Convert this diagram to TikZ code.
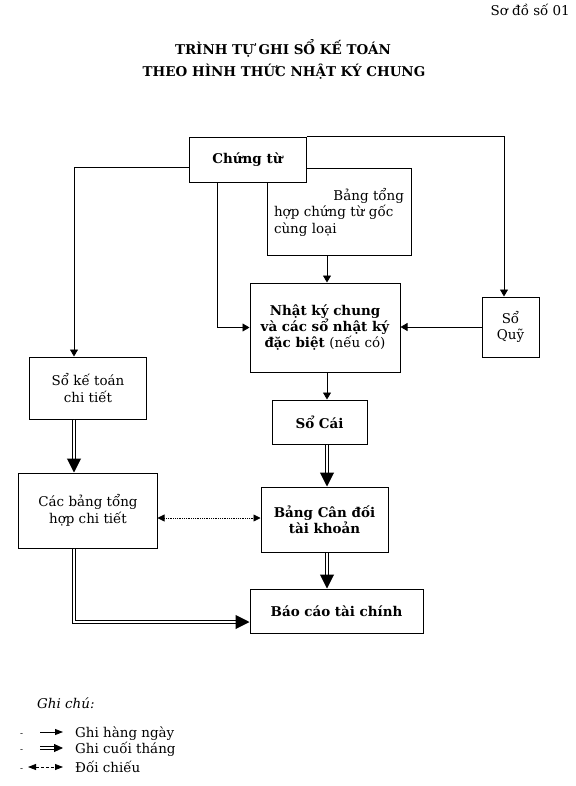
\documentclass[tikz,border=0pt]{standalone}
\usepackage{fontspec}
\setmainfont{DejaVu Serif}
\usetikzlibrary{arrows.meta}
\begin{document}
\begin{tikzpicture}[x=1bp,y=-1bp,
  box/.style={draw,line width=1bp,fill=white,inner sep=0pt,align=center,font=\fontsize{13.5}{16.5}\selectfont},
  hop/.style={box,font=\fontsize{13.5}{16.5}\selectfont\bfseries},
  daily/.style={line width=0.9bp,-{Triangle[length=7bp,width=8bp]}},
  monthly/.style={double,double distance=1.8bp,line width=1bp,-{Triangle[length=14bp,width=14bp]}},
  check/.style={densely dotted,line width=0.8bp,{Triangle[length=7bp,width=7bp]}-{Triangle[length=7bp,width=7bp]}},
  legend/.style={font=\fontsize{13.5}{15}\selectfont,anchor=base west,inner sep=0pt}]
\useasboundingbox (0,0) rectangle (576,786);
\node[anchor=base east,inner sep=0pt,font=\fontsize{13.5}{15}\selectfont] (so) at (570,16) {Sơ đồ số 01};
\node[font=\fontsize{13.5}{15}\selectfont\bfseries,anchor=base,inner sep=0pt] (t1) at (283,55) {TRÌNH TỰ GHI SỔ KẾ TOÁN};
\node[font=\fontsize{13.5}{15}\selectfont\bfseries,anchor=base,inner sep=0pt] (t2) at (284,77) {THEO HÌNH THỨC NHẬT KÝ CHUNG};

\node[box,minimum width=144bp,minimum height=87bp,text width=130bp,align=left] (bth) at (339,212)
  {\hspace*{\fill}Bảng tổng\hspace*{12bp}\\hợp chứng từ gốc\\cùng loại};
\node[hop,minimum width=117bp,minimum height=45bp] (ct) at (247.5,159.5) {Chứng từ};
\node[hop,minimum width=150bp,minimum height=89bp] (nkc) at (325,327.5)
  {Nhật ký chung\\và các sổ nhật ký\\đặc biệt \textmd{(nếu có)}};
\node[box,minimum width=57bp,minimum height=60bp] (sq) at (510.5,327) {Sổ\\Quỹ};
\node[box,minimum width=116bp,minimum height=62bp] (sktct) at (88,388) {Sổ kế toán\\chi tiết};
\node[hop,minimum width=95bp,minimum height=44bp] (sc) at (319.5,422) {Sổ Cái};
\node[box,minimum width=138bp,minimum height=75bp] (cbth) at (88,510.5) {Các bảng tổng\\hợp chi tiết};
\node[hop,minimum width=127bp,minimum height=65bp] (bcd) at (324.5,519.5) {Bảng Cân đối\\tài khoản};
\node[hop,minimum width=173bp,minimum height=44bp] (bctc) at (336.5,611) {Báo cáo tài chính};

\coordinate (qtop) at (504,137);
\coordinate (ltop) at (74,167);
\coordinate (mid) at (217,0);
\coordinate (col) at (327,0);
\coordinate (bot) at (74,622);
\coordinate (dot) at (0,518);

\draw[daily] (ct.north east) -- (ct.north east -| qtop) -- (qtop |- sq.north);
\draw[daily] (ct.west |- ltop) -- (ltop) -- (ltop |- sktct.north);
\draw[daily] (ct.south -| mid) |- (nkc.west);
\draw[daily] (bth.south -| col) -- (nkc.north -| col);
\draw[daily] (sq.west) -- (sq.west -| nkc.east);
\draw[daily] (nkc.south -| col) -- (sc.north -| col);
\draw[monthly] (sktct.south -| ltop) -- (cbth.north -| ltop);
\draw[monthly] (sc.south -| col) -- (bcd.north -| col);
\draw[monthly] (bcd.south -| col) -- (bctc.north -| col);
\draw[monthly] (cbth.south -| bot) -- (bot) -- (bot -| bctc.west);
\draw[check] (cbth.east |- dot) -- (bcd.west |- dot);

\node[legend,font=\fontsize{13.5}{15}\selectfont\itshape] (gc) at (37,708) {Ghi chú:};
\foreach \y [count=\i] in {736,752,771}
  \node[legend,font=\fontsize{9}{10}\selectfont] (m\i) at (20,\y) {-};
\node[legend] (l1) at (75,737) {Ghi hàng ngày};
\node[legend] (l2) at (75,753) {Ghi cuối tháng};
\node[legend] (l3) at (75,772) {Đối chiếu};
\draw[daily,-{Triangle[length=8bp,width=6bp]}] (40,732) -- ++(23,0);
\draw[double,double distance=1.6bp,line width=0.9bp] (40,748) -- ++(16,0);
\draw[line width=0.9bp,-{Triangle[length=9bp,width=8bp]}] (54,748) -- ++(9,0);
\draw[dashed,dash pattern=on 3bp off 2bp,line width=0.8bp,{Triangle[length=8bp,width=6bp]}-{Triangle[length=8bp,width=6bp]}] (28,767) -- ++(35,0);
\end{tikzpicture}
\end{document}
